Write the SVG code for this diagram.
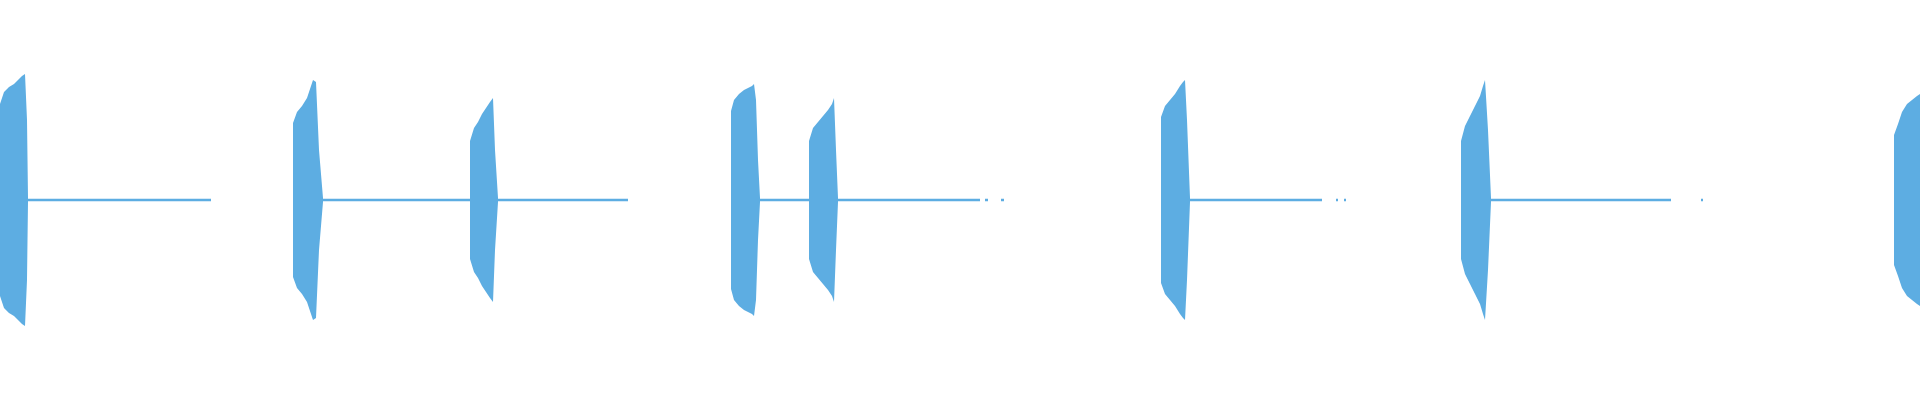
<svg xmlns="http://www.w3.org/2000/svg" width="1920" height="400" viewBox="0 0 1920 400">
<style>.w{fill:#5dade2}.l{stroke:#5dade2;stroke-width:2.5;fill:none}</style>
<rect width="1920" height="400" fill="#fff"/>
<g class="l">
<path d="M28 200H211M322 200H470M497 200H628M759 200H809M837 200H980M985 200h3M1001 200h3M1190 200H1322M1336 200h2M1344 200h2M1490 200H1671M1701 200h2"/>
</g>
<g class="w">
<path d="M0 104 L4 92 L9 87 L14 84 L18 80 L22 76 L25 74 L27 120 L28 198 V202 L27 280 L25 326 L22 324 L18 320 L14 316 L9 313 L4 308 L0 296Z"/>
<path d="M293 123 L297 112 L302 106 L307 98 L311 86 L313 80 L316 82 L319 150 L323 198 V202 L319 250 L316 318 L313 320 L311 314 L307 302 L302 294 L297 288 L293 277Z"/>
<path d="M470 141 L474 128 L478 122 L482 114 L486 108 L490 102 L493 98 L495 150 L498 198 V202 L495 250 L493 302 L490 298 L486 292 L482 286 L478 278 L474 272 L470 259Z"/>
<path d="M731 111 L734 100 L739 94 L744 90 L748 88 L752 86 L754 84 L756 100 L758 160 L760 198 V202 L758 240 L756 300 L754 316 L752 314 L748 312 L744 310 L739 306 L734 300 L731 289Z"/>
<path d="M809 141 L813 128 L818 122 L823 116 L828 110 L832 104 L834 98 L836 150 L838 198 V202 L836 250 L834 302 L832 296 L828 290 L823 284 L818 278 L813 272 L809 259Z"/>
<path d="M1161 117 L1165 106 L1170 100 L1175 94 L1180 86 L1183 82 L1185 80 L1187 120 L1190 198 V202 L1187 280 L1185 320 L1183 318 L1180 314 L1175 306 L1170 300 L1165 294 L1161 283Z"/>
<path d="M1461 141 L1465 126 L1470 116 L1475 106 L1480 96 L1483 86 L1485 80 L1488 130 L1491 198 V202 L1488 270 L1485 320 L1483 314 L1480 304 L1475 294 L1470 284 L1465 274 L1461 259Z"/>
<path d="M1894 135 L1898 124 L1902 112 L1907 104 L1912 100 L1917 96 L1920 94 V306 L1917 304 L1912 300 L1907 296 L1902 288 L1898 276 L1894 265Z"/>
</g>
</svg>
